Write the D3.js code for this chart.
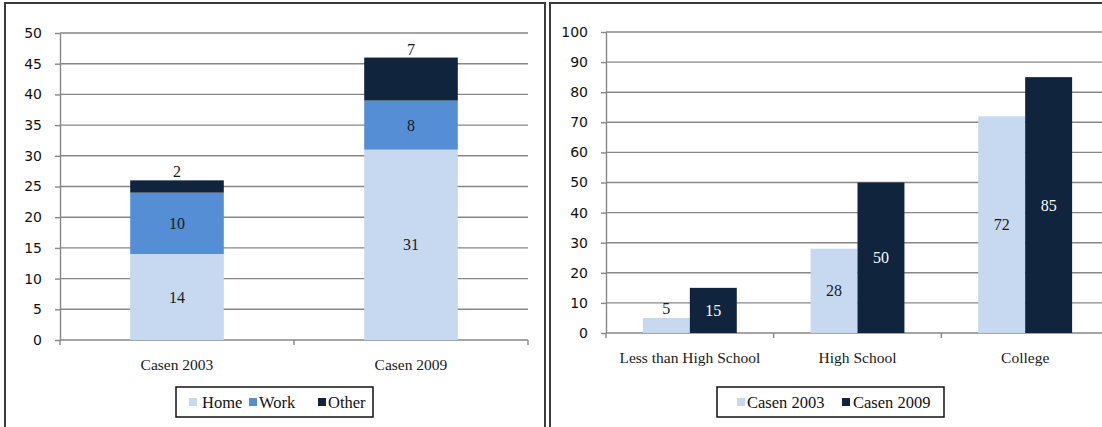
<!DOCTYPE html>
<html>
<head>
<meta charset="utf-8">
<script src="https://cdn.jsdelivr.net/npm/d3@7"></script>
<style>
  html, body { margin: 0; padding: 0; background: #fff; }
  svg { display: block; }
</style>
</head>
<body>
<svg id="chart" width="1102" height="427"></svg>
<script>
// Left panel: where the work takes place, stacked by location
const categoriesLeft = ["Casen 2003", "Casen 2009"];
const seriesLeft = ["Home", "Work", "Other"];
const homeValues = [14, 31];
const workValues = [10, 8];
const otherValues = [2, 7];
const yTicksLeft = [0, 5, 10, 15, 20, 25, 30, 35, 40, 45, 50];

// Right panel: share by education level, grouped by survey year
const categoriesRight = ["Less than High School", "High School", "College"];
const seriesRight = ["Casen 2003", "Casen 2009"];
const casen2003Values = [5, 28, 72];
const casen2009Values = [15, 50, 85];
const yTicksRight = [0, 10, 20, 30, 40, 50, 60, 70, 80, 90, 100];

const LIGHT = "#c6d9f1", MID = "#558ed5", NAVY = "#10243e";
const GRID = "#878787";
const SANS = "'DejaVu Sans', Verdana, sans-serif";
const SERIF = "'Liberation Serif', 'Times New Roman', serif";

const svg = d3.select("#chart");

// panel frames
svg.append("rect").attr("x", 5).attr("y", 3).attr("width", 540).attr("height", 440)
  .attr("fill", "none").attr("stroke", "#3a3a3a").attr("stroke-width", 2);
svg.append("rect").attr("x", 550).attr("y", 3).attr("width", 580).attr("height", 440)
  .attr("fill", "none").attr("stroke", "#3a3a3a").attr("stroke-width", 2);

function drawFrame(g, x, y, ticks, labelY) {
  const [x0, x1] = x.range();
  // horizontal gridlines
  g.append("g").selectAll("line").data(ticks.filter(t => t !== 0)).join("line")
    .attr("x1", x0).attr("x2", x1)
    .attr("y1", d => y(d)).attr("y2", d => y(d))
    .attr("stroke", GRID).attr("stroke-width", 1.4);
  // value axis
  const ya = g.append("g").attr("transform", `translate(${x0},0)`)
    .call(d3.axisLeft(y).tickValues(ticks).tickSize(5).tickSizeOuter(0).tickPadding(13));
  ya.select(".domain").attr("stroke", GRID).attr("stroke-width", 1.4);
  ya.selectAll(".tick line").attr("stroke", GRID).attr("stroke-width", 1.4);
  ya.selectAll(".tick text").attr("font-family", SANS).attr("font-size", 14).attr("fill", "#111");
  // category axis
  const cats = x.domain();
  const bounds = [x0];
  for (let i = 1; i < cats.length; i++) {
    bounds.push((x(cats[i - 1]) + x.bandwidth() + x(cats[i])) / 2);
  }
  bounds.push(x1);
  g.append("line").attr("x1", x0).attr("x2", x1).attr("y1", y(0)).attr("y2", y(0))
    .attr("stroke", GRID).attr("stroke-width", 1.4);
  g.append("g").selectAll("line").data(bounds).join("line")
    .attr("x1", d => d).attr("x2", d => d).attr("y1", y(0)).attr("y2", y(0) + 5)
    .attr("stroke", GRID).attr("stroke-width", 1.4);
  g.append("g").selectAll("text").data(cats).join("text")
    .attr("x", d => x(d) + x.bandwidth() / 2).attr("y", labelY)
    .attr("text-anchor", "middle").attr("font-family", SERIF).attr("font-size", 15.5)
    .attr("fill", "#1a1a1a").text(d => d);
}

function drawLegend(g, box, items) {
  g.append("rect").attr("x", box.x).attr("y", box.y).attr("width", box.w).attr("height", box.h)
    .attr("fill", "#fff").attr("stroke", "#111").attr("stroke-width", 1.5);
  const it = g.selectAll("g.item").data(items).join("g").attr("class", "item")
    .attr("transform", d => `translate(${d.x},${box.y + box.h / 2})`);
  it.append("rect").attr("x", 0).attr("y", -4).attr("width", 8).attr("height", 8)
    .attr("fill", d => d.color);
  it.append("text").attr("x", d => d.dx).attr("y", 5.5)
    .attr("font-family", SERIF).attr("font-size", 16.5).attr("fill", "#111")
    .text(d => d.name);
}

// ---------- left: stacked columns ----------
{
  const g = svg.append("g");
  const x = d3.scaleBand().domain(categoriesLeft).range([60, 528])
    .paddingInner(0.6).paddingOuter(0.3);
  const y = d3.scaleLinear().domain([0, 50]).range([340, 33]);
  drawFrame(g, x, y, yTicksLeft, 370);

  const rows = categoriesLeft.map((c, i) => ({
    cat: c, Home: homeValues[i], Work: workValues[i], Other: otherValues[i]
  }));
  const stacked = d3.stack().keys(seriesLeft)(rows);
  const color = d3.scaleOrdinal().domain(seriesLeft).range([LIGHT, MID, NAVY]);

  const layers = g.append("g").selectAll("g").data(stacked).join("g")
    .attr("fill", d => color(d.key));
  layers.selectAll("rect").data(d => d).join("rect")
    .attr("x", d => x(d.data.cat)).attr("width", x.bandwidth())
    .attr("y", d => y(d[1])).attr("height", d => y(d[0]) - y(d[1]));

  // value labels: centred in each segment, the thin top segment sits on its top edge
  const labels = g.append("g");
  stacked.forEach(layer => {
    layer.forEach(d => {
      const v = d.data[layer.key];
      const cx = x(d.data.cat) + x.bandwidth() / 2;
      const above = layer.key === "Other";
      labels.append("text")
        .attr("x", cx)
        .attr("y", above ? y(d[1]) - 3 : (y(d[0]) + y(d[1])) / 2)
        .attr("dy", above ? 0 : "0.35em")
        .attr("text-anchor", "middle").attr("font-family", SERIF).attr("font-size", 16)
        .attr("fill", "#1a1a1a").text(v);
    });
  });

  drawLegend(g, { x: 176, y: 387, w: 197, h: 30 }, [
    { name: seriesLeft[0], color: LIGHT, x: 189, dx: 13 },
    { name: seriesLeft[1], color: MID, x: 249, dx: 10 },
    { name: seriesLeft[2], color: NAVY, x: 318, dx: 10 }
  ]);
}

// ---------- right: clustered columns ----------
{
  const g = svg.append("g");
  const x = d3.scaleBand().domain(categoriesRight).range([606, 1109])
    .paddingInner(0.44).paddingOuter(0.22);
  const xs = d3.scaleBand().domain(seriesRight).range([0, x.bandwidth()]);
  const y = d3.scaleLinear().domain([0, 100]).range([333, 32]);
  drawFrame(g, x, y, yTicksRight, 363);

  const values = { "Casen 2003": casen2003Values, "Casen 2009": casen2009Values };
  const color = d3.scaleOrdinal().domain(seriesRight).range([LIGHT, NAVY]);
  const textColor = d3.scaleOrdinal().domain(seriesRight).range(["#1a1a1a", "#fff"]);

  const bars = [];
  categoriesRight.forEach((c, i) => seriesRight.forEach(s => bars.push({ cat: c, s, v: values[s][i] })));

  g.append("g").selectAll("rect").data(bars).join("rect")
    .attr("x", d => x(d.cat) + xs(d.s)).attr("width", xs.bandwidth())
    .attr("y", d => y(d.v)).attr("height", d => y(0) - y(d.v))
    .attr("fill", d => color(d.s));

  // labels centred in the column, or just above it when the column is too short
  g.append("g").selectAll("text").data(bars).join("text")
    .each(function (d) {
      const h = y(0) - y(d.v);
      const inside = h >= 22;
      d3.select(this)
        .attr("x", x(d.cat) + xs(d.s) + xs.bandwidth() / 2)
        .attr("y", inside ? (y(0) + y(d.v)) / 2 : y(d.v) - 4)
        .attr("dy", inside ? "0.35em" : 0)
        .attr("fill", inside ? textColor(d.s) : "#1a1a1a");
    })
    .attr("text-anchor", "middle").attr("font-family", SERIF).attr("font-size", 16)
    .text(d => d.v);

  drawLegend(g, { x: 717, y: 387, w: 227, h: 30 }, [
    { name: seriesRight[0], color: LIGHT, x: 737, dx: 10 },
    { name: seriesRight[1], color: NAVY, x: 842, dx: 11 }
  ]);
}
</script>
</body>
</html>
